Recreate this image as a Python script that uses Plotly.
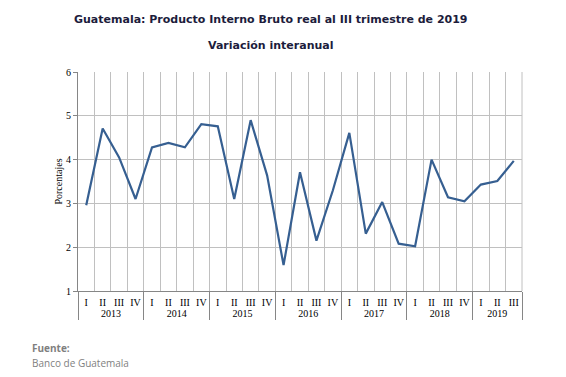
import plotly.graph_objects as go

years = ["2013"] * 4 + ["2014"] * 4 + ["2015"] * 4 + ["2016"] * 4 + ["2017"] * 4 + ["2018"] * 4 + ["2019"] * 3
quarters = ["I", "II", "III", "IV"] * 6 + ["I", "II", "III"]
values = [2.96, 4.71, 4.05, 3.10,
          4.28, 4.38, 4.28, 4.81,
          4.76, 3.10, 4.90, 3.64,
          1.59, 3.71, 2.15, 3.30,
          4.61, 2.31, 3.03, 2.08,
          2.02, 4.00, 3.14, 3.05,
          3.43, 3.51, 3.97]

fig = go.Figure()
fig.add_trace(go.Scatter(
    x=[years, quarters], y=values, mode="lines",
    line=dict(color="#365f91", width=2.2),
    showlegend=False, hoverinfo="skip"))

# the page body has an 8px margin, so the figure is 8px smaller and margins are offset
fig.update_layout(
    width=558, height=369,
    margin=dict(l=70, r=44, t=64, b=86, autoexpand=False),
    paper_bgcolor="white", plot_bgcolor="white",
    font=dict(family="Liberation Serif", size=10, color="#000000"),
)

fig.update_xaxes(
    type="multicategory", tickson="boundaries",
    range=[-0.5, len(values) - 0.5], automargin=False, tickangle=0,
    showgrid=True, gridcolor="#c0c0c0", gridwidth=1,
    showline=True, linecolor="#868686", linewidth=1, mirror=False,
    ticks="", showdividers=True, dividercolor="#868686", dividerwidth=1,
    ticklabelstandoff=2,
    tickfont=dict(family="Liberation Serif", size=10, color="#000000"),
)
fig.update_yaxes(
    range=[1, 6], dtick=1, tick0=1, automargin=False,
    showgrid=True, gridcolor="#c0c0c0", gridwidth=1,
    showline=True, linecolor="#868686", linewidth=1,
    ticks="outside", ticklen=4, tickcolor="#868686",
    zeroline=False,
    title=dict(text="Porcentajes", font=dict(family="Liberation Serif", size=10, color="#000000"), standoff=1),
    tickfont=dict(family="Liberation Serif", size=10, color="#000000"),
)
fig.add_shape(type="line", xref="paper", yref="paper", x0=1, x1=1, y0=0, y1=1,
              line=dict(color="#c0c0c0", width=1))

title_font = dict(family="DejaVu Sans", size=11, color="#1c1c3c", weight="bold")
fig.add_annotation(text="Guatemala: Producto Interno Bruto real al III trimestre de 2019",
                   xref="paper", yref="paper", x=0.435, y=1.239, xanchor="center", yanchor="middle",
                   showarrow=False, font=title_font)
fig.add_annotation(text="Variación interanual",
                   xref="paper", yref="paper", x=0.435, y=1.12, xanchor="center", yanchor="middle",
                   showarrow=False, font=title_font)

fig.add_annotation(text="<b>Fuente:</b>", xref="paper", yref="paper",
                   x=-0.108, y=-0.262, xanchor="left", yanchor="middle", showarrow=False,
                   font=dict(family="Open Sans", size=10, color="#7f7f7f"))
fig.add_annotation(text="Banco de Guatemala", xref="paper", yref="paper",
                   x=-0.108, y=-0.331, xanchor="left", yanchor="middle", showarrow=False,
                   font=dict(family="Open Sans", size=10, color="#7f7f7f"))

fig.write_html("out.html")
